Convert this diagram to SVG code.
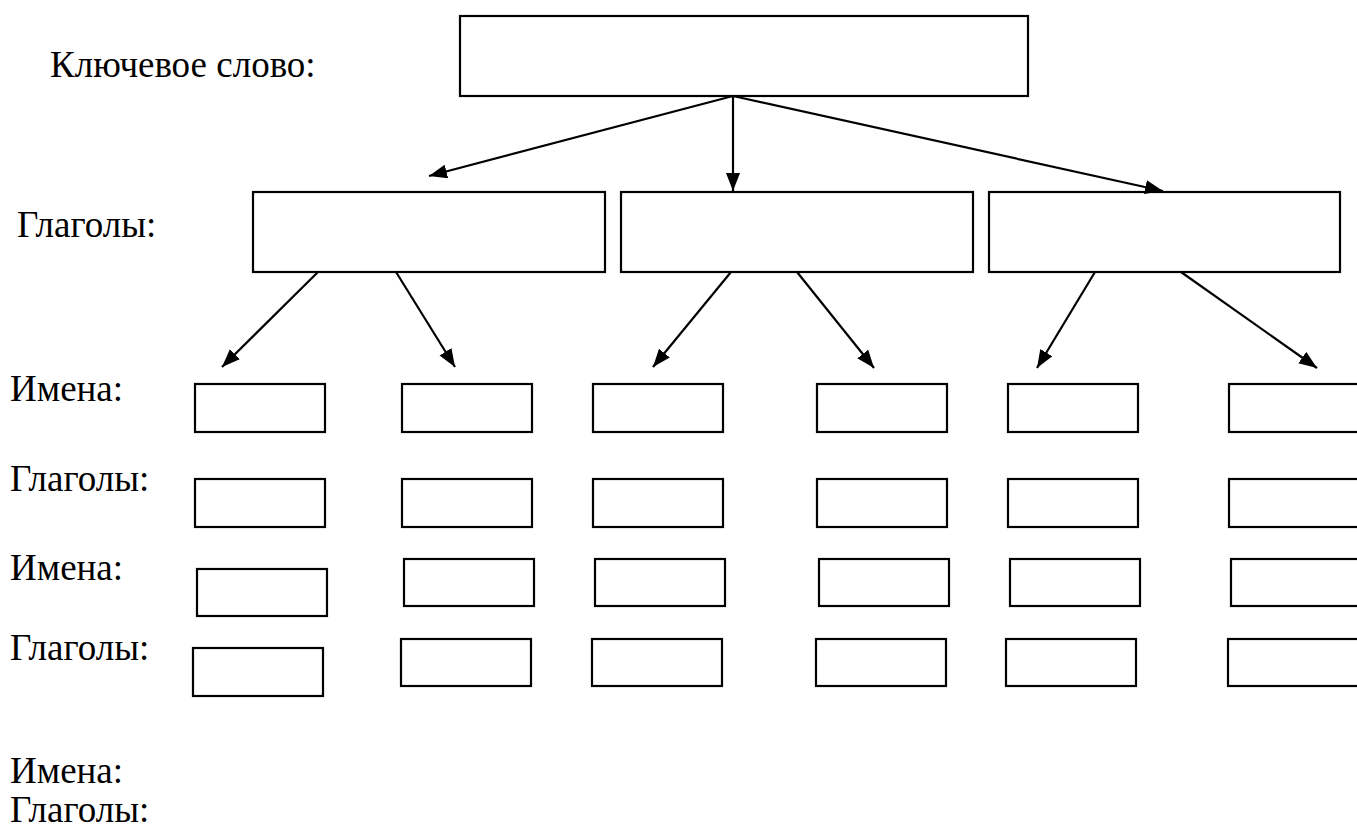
<svg xmlns="http://www.w3.org/2000/svg" width="1357" height="828" viewBox="0 0 1357 828">
<style>
.box{fill:#fff;stroke:#000;stroke-width:2.2}
.lbl{font-family:"Liberation Serif","Times New Roman",serif;font-size:37px;fill:#000}
.con{stroke:#000;stroke-width:2.2;fill:none;marker-end:url(#ah)}
</style>
<defs>
<marker id="ah" markerUnits="userSpaceOnUse" markerWidth="19" markerHeight="15" refX="18" refY="7" orient="auto">
<path d="M0,0 L18,7 L0,14 z" fill="#000"/>
</marker>
</defs>
<rect width="1357" height="828" fill="#fff"/>
<g id="labels">
<text class="lbl" x="50" y="77">Ключевое слово:</text>
<text class="lbl" x="17" y="237">Глаголы:</text>
<text class="lbl" x="10" y="401">Имена:</text>
<text class="lbl" x="10" y="491">Глаголы:</text>
<text class="lbl" x="10" y="580">Имена:</text>
<text class="lbl" x="10" y="660">Глаголы:</text>
<text class="lbl" x="10" y="783">Имена:</text>
<text class="lbl" x="10" y="822">Глаголы:</text>
</g>
<g id="keyword"><rect class="box" x="460" y="16" width="568" height="80"/></g>
<g id="verb1"><rect class="box" x="253" y="192" width="352" height="80"/></g>
<g id="verb2"><rect class="box" x="621" y="192" width="352" height="80"/></g>
<g id="verb3"><rect class="box" x="989" y="192" width="351" height="80"/></g>
<g id="r1">
<rect class="box" x="195" y="384" width="130" height="48"/>
<rect class="box" x="402" y="384" width="130" height="48"/>
<rect class="box" x="593" y="384" width="130" height="48"/>
<rect class="box" x="817" y="384" width="130" height="48"/>
<rect class="box" x="1008" y="384" width="130" height="48"/>
<rect class="box" x="1229" y="384" width="140" height="48"/>
</g>
<g id="r2">
<rect class="box" x="195" y="479" width="130" height="48"/>
<rect class="box" x="402" y="479" width="130" height="48"/>
<rect class="box" x="593" y="479" width="130" height="48"/>
<rect class="box" x="817" y="479" width="130" height="48"/>
<rect class="box" x="1008" y="479" width="130" height="48"/>
<rect class="box" x="1229" y="479" width="140" height="48"/>
</g>
<g id="r3">
<rect class="box" x="197" y="569" width="130" height="47"/>
<rect class="box" x="404" y="559" width="130" height="47"/>
<rect class="box" x="595" y="559" width="130" height="47"/>
<rect class="box" x="819" y="559" width="130" height="47"/>
<rect class="box" x="1010" y="559" width="130" height="47"/>
<rect class="box" x="1231" y="559" width="140" height="47"/>
</g>
<g id="r4">
<rect class="box" x="193" y="648" width="130" height="48"/>
<rect class="box" x="401" y="639" width="130" height="47"/>
<rect class="box" x="592" y="639" width="130" height="47"/>
<rect class="box" x="816" y="639" width="130" height="47"/>
<rect class="box" x="1006" y="639" width="130" height="47"/>
<rect class="box" x="1228" y="639" width="140" height="47"/>
</g>
<g id="connectors">
<line class="con" x1="733" y1="96" x2="429" y2="176"/>
<line class="con" x1="733" y1="96" x2="733" y2="191"/>
<line class="con" x1="733" y1="96" x2="1163" y2="191"/>
<line class="con" x1="318" y1="272" x2="222" y2="367"/>
<line class="con" x1="396" y1="272" x2="455" y2="367"/>
<line class="con" x1="731" y1="272" x2="653" y2="367"/>
<line class="con" x1="797" y1="272" x2="874" y2="368"/>
<line class="con" x1="1095" y1="272" x2="1037" y2="368"/>
<line class="con" x1="1181" y1="272" x2="1317" y2="368"/>
</g>
</svg>
